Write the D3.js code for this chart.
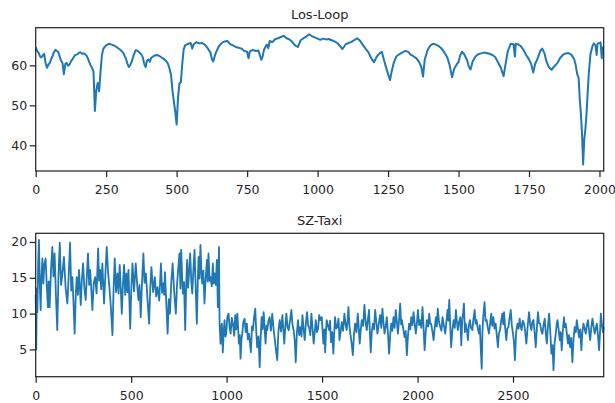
<!DOCTYPE html>
<html>
<head>
<meta charset="utf-8">
<script src="https://cdn.jsdelivr.net/npm/d3@7"></script>
<style>
  body { margin: 0; background: #fff; }
  text { font-family: "DejaVu Sans", sans-serif; fill: #262626; }
</style>
</head>
<body>
<div class="canvas"></div>
<script>
// Los-Loop: time step / speed
const losTime = [
  0,5,10,15,20,25,30,35,40,45,
  50,55,60,65,70,75,80,85,90,95,
  100,105,110,115,120,125,130,135,140,145,
  150,155,160,165,170,175,180,185,190,195,
  200,205,210,215,220,225,230,235,240,245,
  250,260,270,280,290,300,310,320,325,330,
  335,340,345,350,355,360,370,375,380,385,
  390,395,400,405,410,420,430,440,450,460,
  465,470,475,480,485,490,495,500,505,510,
  515,520,525,530,540,550,555,560,570,580,
  590,600,610,620,625,630,635,640,650,660,
  670,680,690,700,710,720,730,740,750,755,
  760,770,780,790,795,800,805,810,820,825,
  830,840,850,860,870,880,890,900,910,920,
  930,940,950,960,970,980,990,1000,1010,1020,
  1030,1040,1050,1060,1070,1080,1088,1095,1100,1110,
  1120,1130,1140,1150,1160,1170,1180,1190,1200,1210,
  1220,1228,1235,1245,1252,1257,1262,1270,1280,1290,
  1300,1310,1320,1330,1340,1350,1360,1368,1374,1380,
  1390,1400,1410,1420,1430,1440,1450,1460,1468,1477,
  1485,1495,1500,1505,1512,1520,1530,1537,1543,1550,
  1560,1570,1580,1590,1600,1610,1620,1630,1640,1650,
  1660,1668,1675,1685,1695,1700,1703,1710,1720,1730,
  1740,1750,1758,1765,1772,1780,1790,1797,1805,1812,
  1820,1830,1840,1850,1860,1870,1880,1890,1900,1910,
  1915,1921,1926,1930,1934,1938,1942,1946,1950,1954,
  1958,1962,1968,1975,1980,1986,1990,1993,2000,2004,
  2008,2011,2015
];
const losSpeed = [
  64.5,63.6,63.2,62.3,62.0,62.5,62.9,60.6,59.4,60.2,
  60.6,61.6,62.4,63.3,63.9,63.6,63.4,62.2,61.2,60.6,
  57.8,60.4,60.6,59.9,60.2,61.0,61.5,62.1,62.6,62.7,
  62.9,63.2,63.2,62.9,63.0,62.8,62.5,61.8,60.8,60.0,
  59.4,58.5,48.6,53.8,55.6,53.5,58.5,62.6,64.2,64.6,
  65.0,65.4,65.2,64.9,64.4,63.9,63.2,61.7,60.5,59.6,
  60.0,60.8,62.0,63.0,63.8,63.7,63.1,62.7,62.0,60.4,
  59.6,61.2,61.5,60.9,61.9,62.4,62.6,62.3,61.8,61.3,
  60.9,60.3,59.1,57.7,53.8,51.0,48.5,45.2,52.0,55.5,
  55.8,60.4,64.0,65.0,65.4,65.6,64.2,65.2,65.8,65.5,
  65.6,65.2,64.3,63.2,61.6,61.0,62.3,63.3,64.8,65.6,
  66.0,66.1,65.3,65.0,64.6,64.4,64.2,63.6,63.4,61.8,
  63.5,63.9,63.6,63.7,62.6,61.4,62.2,64.0,65.2,64.3,
  66.1,65.8,66.6,66.8,67.1,67.4,66.8,66.5,65.9,65.0,
  64.6,66.3,66.8,67.2,67.8,67.3,67.0,66.7,66.4,66.7,
  66.5,66.6,66.3,66.0,65.6,64.8,64.1,64.8,65.3,65.6,
  65.9,66.3,66.8,66.2,65.2,64.2,63.3,61.8,60.8,62.2,
  63.0,63.4,61.5,59.0,57.4,56.3,58.2,60.6,62.3,62.8,
  63.2,63.6,63.5,62.7,62.3,61.8,60.9,59.6,57.2,61.4,
  63.8,65.0,65.4,65.2,64.8,64.2,63.2,62.0,60.2,57.0,
  59.2,60.4,60.8,62.3,63.4,62.8,61.4,59.6,59.0,61.0,
  62.2,62.8,63.0,63.2,63.1,62.9,62.6,62.1,60.8,59.4,
  57.3,60.8,63.6,65.4,65.3,62.2,65.4,65.3,64.9,63.9,
  62.6,61.5,60.3,58.2,60.4,61.6,63.6,64.2,63.0,61.0,
  59.6,58.9,59.8,60.5,61.8,62.6,63.0,63.1,62.7,61.6,
  60.3,57.8,56.9,51.7,48.0,43.0,35.2,41.5,44.0,47.9,
  53.0,57.8,62.8,64.8,65.5,65.0,62.6,65.4,65.6,65.8,
  61.8,64.5,64.6
];

// SZ-Taxi: time step / speed
const taxiTime = [
  0,3,6,9,13,17,21,26,30,35,
  40,45,52,58,64,68,73,80,87,93,
  99,106,113,119,126,133,140,148,157,166,
  173,180,186,192,198,204,210,215,221,227,
  236,242,248,255,262,268,274,280,285,291,
  297,304,311,319,327,332,337,343,349,358,
  365,372,379,386,394,402,408,414,421,428,
  434,440,446,451,457,463,469,475,481,486,
  491,495,501,507,515,524,531,538,544,550,
  557,564,570,577,585,594,600,606,615,624,
  631,638,647,656,662,668,673,677,684,691,
  697,703,710,717,725,734,740,746,753,758,
  762,767,771,777,783,788,793,798,802,809,
  815,820,826,832,838,844,849,853,858,863,
  868,872,878,884,890,897,901,905,911,916,
  922,928,932,937,943,949,954,960,
  963,968,971,975,980,985,989,994,998,1004,
  1010,1016,1021,1027,1033,1040,1045,1050,1056,1060,
  1064,1069,1073,1078,1082,1088,1094,1100,1106,1111,
  1117,1122,1127,1133,1138,1144,1150,1155,1160,1167,
  1173,1178,1183,1188,1194,1199,1204,1209,1213,1219,
  1225,1232,1239,1245,1251,1258,1265,1271,1278,1285,
  1292,1297,1302,1308,1313,1319,1325,1333,1339,1345,
  1351,1357,1362,1368,1374,1380,1386,1392,1397,1403,
  1409,1415,1421,1427,1432,1438,1444,1450,1456,1462,
  1467,1473,1479,1485,1491,1498,1503,1507,1512,1516,
  1520,1524,1530,1537,1542,1547,1553,1559,1564,1568,
  1574,1580,1586,1591,1597,1603,1610,1617,1623,1629,
  1634,1638,1643,1648,1654,1661,1667,1673,1680,1687,
  1692,1697,1703,1708,1715,1722,1728,1734,1740,1746,
  1750,1755,1760,1766,1772,1778,1784,1790,1797,1804,
  1810,1816,1821,1827,1833,1839,1845,1851,1857,1862,
  1868,1874,1880,1886,1892,1897,1903,1909,1914,1918,
  1925,1932,1938,1944,1950,1956,1962,1967,1973,1979,
  1985,1991,1997,2002,2008,2014,2020,2026,2031,2037,
  2043,2049,2055,2061,2066,2071,2078,2084,2090,2096,
  2101,2106,2112,2119,2125,2131,2138,2145,2151,2157,
  2162,2166,2171,2176,2182,2189,2195,2201,2206,2211,
  2217,2224,2229,2234,2239,2243,2248,2252,2258,2264,
  2269,2274,2280,2287,2293,2299,2304,2309,2315,2322,
  2326,2330,2336,2340,2344,2351,2356,2362,2368,2374,
  2380,2386,2391,2397,2403,2409,2415,2421,2426,2432,
  2438,2444,2449,2453,2459,2465,2470,2476,2482,2488,
  2494,2500,2505,2510,2516,2523,2529,2535,2540,2545,
  2551,2558,2564,2570,2577,2584,2590,2596,2601,2607,
  2613,2619,2625,2631,2636,2642,2648,2654,2660,2666,
  2671,2677,2683,2689,2695,2701,2707,2712,2718,2724,
  2729,2733,2739,2745,2750,2755,2761,2767,2771,2776,
  2782,2788,2793,2799,2805,2811,2817,2823,2829,2834,
  2840,2846,2852,2858,2863,2869,2875,2881,2887,2893,
  2898,2904,2910,2916,2922,2928,2934,2939,2945,2951,
  2956,2960,2966,2971,2975
];
const taxiSpeed = [
  12.6,5.0,13.5,10.2,17.0,20.3,14.5,10.5,15.0,17.7,
  14.2,16.8,17.7,13.8,10.9,14.5,10.9,16.0,19.3,15.2,
  18.4,12.5,7.7,15.0,19.9,14.0,15.6,17.9,13.5,11.4,
  15.5,19.9,13.2,15.1,11.5,7.2,12.8,15.1,12.6,16.1,
  11.2,14.8,17.0,13.6,11.9,15.3,18.4,14.0,16.1,13.5,
  10.5,14.2,15.1,12.8,19.1,14.6,16.1,13.4,17.0,11.4,
  15.5,19.3,15.8,13.7,10.8,7.0,13.5,17.7,13.0,15.6,
  12.8,16.8,13.2,10.0,14.1,16.8,12.6,15.6,13.0,16.1,
  11.4,7.9,13.6,17.0,13.1,17.0,14.2,11.9,14.0,9.5,
  14.4,18.4,14.3,15.6,12.2,8.6,13.5,16.5,13.0,15.1,
  12.4,13.7,11.8,17.0,12.9,14.2,12.6,15.8,11.5,7.2,
  12.0,10.0,14.3,17.0,13.2,10.0,13.9,16.1,18.4,13.5,
  18.9,15.0,12.8,14.4,7.7,13.8,17.5,13.6,15.1,18.4,
  14.5,12.8,16.2,18.9,13.5,8.6,14.6,17.9,14.9,19.6,
  15.8,14.2,16.0,11.4,14.8,17.5,14.5,18.4,14.6,15.1,
  13.8,17.0,14.2,15.6,14.0,17.5,10.9,19.3,
  8.8,5.8,8.0,8.6,4.6,7.6,9.1,6.8,7.2,9.6,
  10.0,8.0,7.2,9.4,8.6,6.9,9.8,7.8,10.0,8.2,
  5.8,7.0,3.7,6.5,7.2,8.9,9.3,7.4,8.6,6.4,
  7.2,6.0,4.6,8.2,7.7,9.5,10.7,7.6,5.3,6.8,
  2.5,6.4,9.5,7.8,10.2,7.9,5.8,8.3,7.7,9.0,
  9.5,7.6,10.0,8.1,6.7,5.0,3.5,7.4,9.1,7.5,
  9.8,7.8,5.8,8.4,10.0,8.1,7.7,9.2,10.5,8.5,
  7.7,6.2,3.2,7.3,9.1,7.0,8.1,6.8,9.8,7.9,
  6.3,8.6,10.2,8.3,8.1,7.0,10.0,7.9,5.8,7.6,
  9.1,7.4,7.9,9.8,9.1,9.5,7.5,5.8,7.8,4.6,
  7.2,9.1,8.4,7.7,9.0,6.0,7.4,4.4,7.6,9.5,
  7.9,8.1,9.3,6.3,7.4,8.8,7.6,10.0,8.5,7.7,
  9.2,10.9,8.4,7.2,6.0,4.2,7.1,8.6,7.4,10.0,
  8.0,5.8,7.9,9.1,8.3,11.2,8.8,7.7,9.2,10.5,
  7.6,4.6,7.3,8.6,7.8,10.5,8.8,7.2,8.6,9.8,
  8.0,10.7,8.9,7.2,8.2,9.5,7.3,4.4,7.1,8.6,
  7.6,9.5,8.0,10.5,8.8,7.2,9.0,11.4,8.5,9.1,
  7.9,6.7,7.6,4.2,7.0,8.6,7.8,9.5,8.4,10.2,
  8.6,7.2,8.8,10.5,8.4,9.1,8.0,10.9,8.3,4.9,
  7.5,9.1,8.2,10.0,8.6,8.6,7.5,6.3,8.0,9.5,
  8.2,10.7,8.9,8.1,7.6,9.5,8.3,7.2,8.8,10.5,
  9.0,11.9,8.5,5.3,7.6,9.1,8.0,10.5,8.9,7.7,
  8.8,9.5,5.6,9.1,10.2,11.4,7.4,8.6,7.8,6.3,
  8.4,9.1,8.0,7.7,9.3,10.5,8.6,9.1,8.0,7.2,
  8.4,5.8,2.3,7.5,9.5,11.6,9.0,9.1,8.0,7.2,
  8.6,10.0,8.3,9.5,7.9,8.6,7.0,5.3,7.2,7.7,
  9.0,10.0,8.5,10.2,8.0,6.3,7.9,8.1,9.4,10.5,
  8.3,7.2,6.0,3.5,7.3,8.6,7.9,9.3,8.2,7.7,
  9.0,8.6,7.4,5.8,8.3,10.2,8.5,7.7,8.8,9.1,
  7.4,5.3,8.0,10.2,8.7,8.6,7.6,7.2,8.4,9.3,
  7.5,5.8,8.2,10.0,7.6,4.4,5.6,2.1,5.9,7.2,
  8.6,9.1,7.8,6.3,7.4,4.9,7.6,9.5,8.1,8.6,
  7.2,5.8,7.0,5.3,6.6,3.2,6.5,8.1,7.4,9.1,
  7.9,6.7,7.8,4.9,7.3,8.6,7.9,7.2,8.4,9.1,
  7.7,6.3,8.0,9.3,8.2,7.2,8.0,8.6,7.0,4.9,
  7.5,10.0,8.4,7.4,8.1
];

const losXTicks = [0, 250, 500, 750, 1000, 1250, 1500, 1750, 2000];
const losYTicks = [40, 50, 60];
const taxiXTicks = [0, 500, 1000, 1500, 2000, 2500];
const taxiYTicks = [5, 10, 15, 20];

const svg = d3.select('.canvas')
    .append('svg')
        .attr('width', 615)
        .attr('height', 403);

const left = 35.7, right = 603.7;
const ink = '#262626';

function drawPanel(title, times, speeds, xMax, xTicks, yTicks, top, bottom, lw) {
    const lo = d3.min(speeds), hi = d3.max(speeds);
    const pad = (hi - lo) * 0.05;

    const x = d3.scaleLinear().domain([0, xMax]).range([left, right]);
    const y = d3.scaleLinear().domain([lo - pad, hi + pad]).range([bottom, top]);

    const g = svg.append('g');

    const line = d3.line()
        .x(d => x(d[0]))
        .y(d => y(d[1]));

    g.append('path')
        .datum(d3.zip(times, speeds))
        .attr('fill', 'none')
        .attr('stroke', '#1f77b4')
        .attr('stroke-width', lw)
        .attr('stroke-linejoin', 'round')
        .attr('d', line);

    // axes, plain integer labels like matplotlib
    const xAxis = d3.axisBottom(x).tickValues(xTicks).tickFormat(d3.format('d'))
        .tickSize(6).tickSizeOuter(0).tickPadding(8);
    const yAxis = d3.axisLeft(y).tickValues(yTicks).tickFormat(d3.format('d'))
        .tickSize(6).tickSizeOuter(0).tickPadding(2.5);

    const xg = g.append('g').attr('transform', `translate(0,${bottom})`).call(xAxis);
    const yg = g.append('g').attr('transform', `translate(${left},0)`).call(yAxis);

    [xg, yg].forEach(a => {
        a.select('.domain').remove();
        a.selectAll('line').attr('stroke', ink).attr('stroke-width', 1.25);
        a.selectAll('text').attr('font-size', 12.5).attr('fill', ink)
            .style('font-family', '"DejaVu Sans", sans-serif');
    });

    // frame
    g.append('rect')
        .attr('x', left).attr('y', top)
        .attr('width', right - left).attr('height', bottom - top)
        .attr('fill', 'none')
        .attr('stroke', ink)
        .attr('stroke-width', 1.25);

    g.append('text')
        .attr('x', (left + right) / 2)
        .attr('y', top - 8.5)
        .attr('text-anchor', 'middle')
        .attr('font-size', 13)
        .text(title);
}

drawPanel('Los-Loop', losTime, losSpeed, 2015, losXTicks, losYTicks, 27.7, 171, 2);
drawPanel('SZ-Taxi', taxiTime, taxiSpeed, 2975, taxiXTicks, taxiYTicks, 233.3, 376.7, 1.8);
</script>
</body>
</html>
